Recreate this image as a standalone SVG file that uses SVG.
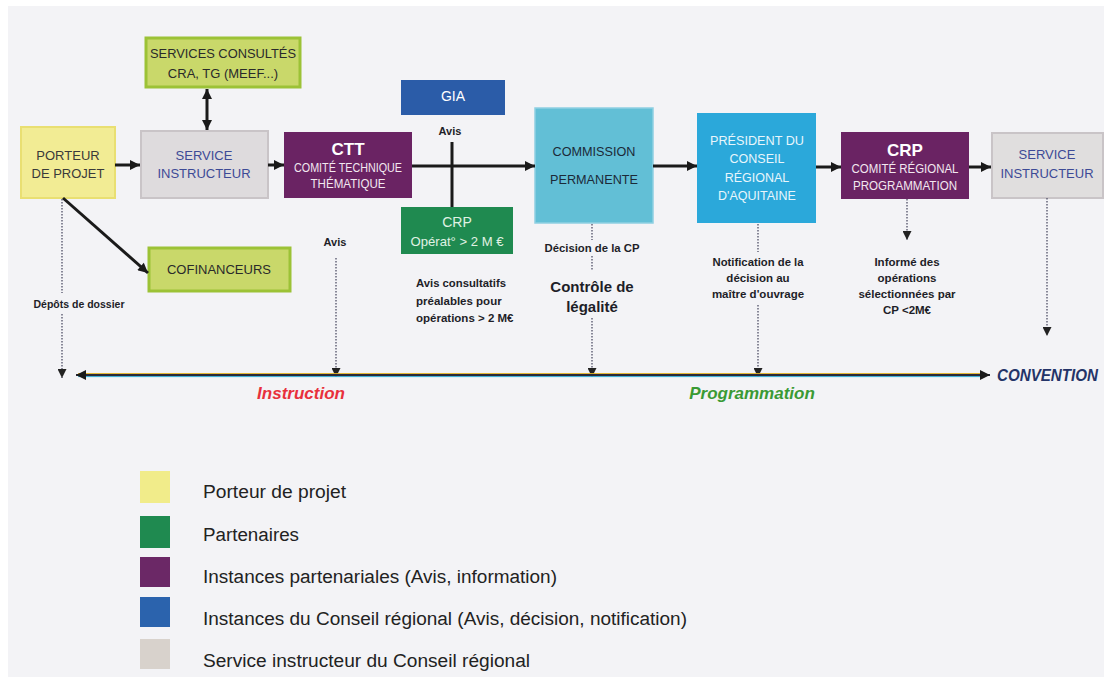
<svg xmlns="http://www.w3.org/2000/svg" width="1104" height="677" viewBox="0 0 1104 677">
  <defs>
    <marker id="head" viewBox="0 0 10 10" refX="10" refY="5" markerWidth="11" markerHeight="10" markerUnits="userSpaceOnUse" orient="auto-start-reverse">
      <path d="M0,0 L10,5 L0,10 z" fill="#1a1a1a"/>
    </marker>
    <marker id="dothead" viewBox="0 0 10 10" refX="10" refY="5" markerWidth="9" markerHeight="9" markerUnits="userSpaceOnUse" orient="auto">
      <path d="M0,0 L10,5 L0,10 z" fill="#222"/>
    </marker>
  </defs>
  <style>
    .box { stroke-width: 2; }
    .t { font-family: "Liberation Sans", Arial, sans-serif; text-anchor: middle; }
    .note { font-family: "Liberation Sans", Arial, sans-serif; font-weight: bold; fill: #1e1e28; }
    .solid { stroke: #1a1a1a; stroke-width: 3; fill: none; }
    .dots { stroke: #5a5a70; stroke-width: 1.4; stroke-dasharray: 1.5 1.5; fill: none; }
    .legend { font-family: "Liberation Sans", Arial, sans-serif; font-size: 18px; fill: #222; }
  </style>

  <!-- page -->
  <rect width="1104" height="677" fill="#ffffff"/>
  <rect x="8" y="6" width="1096" height="671" fill="#f3f3f6"/>

  <!-- nodes -->
  <g id="porteur">
    <rect class="box" x="21" y="127" width="94" height="71" fill="#f2ec94" stroke="#e9df72"/>
    <text class="t" x="68" y="160" font-size="13" fill="#3a3a3a">PORTEUR</text>
    <text class="t" x="68" y="178" font-size="13" fill="#3a3a3a">DE PROJET</text>
  </g>

  <g id="services-consultes">
    <rect x="146" y="38" width="154" height="49" fill="#c9d86a" stroke="#9cc236" stroke-width="3"/>
    <text class="t" x="223" y="58" font-size="13" fill="#2a2a2a" textLength="146" lengthAdjust="spacingAndGlyphs">SERVICES CONSULTÉS</text>
    <text class="t" x="223" y="78" font-size="13" fill="#2a2a2a">CRA, TG (MEEF...)</text>
  </g>

  <g id="service-instructeur-1">
    <rect class="box" x="141" y="131" width="127" height="67" fill="#dedbdd" stroke="#c9c4c7"/>
    <text class="t" x="204" y="160" font-size="13" fill="#3d4a96">SERVICE</text>
    <text class="t" x="204" y="178" font-size="13" fill="#3d4a96">INSTRUCTEUR</text>
  </g>

  <g id="cofinanceurs">
    <rect x="149" y="248" width="141" height="43" fill="#c9d86a" stroke="#9cc236" stroke-width="3"/>
    <text class="t" x="219" y="274" font-size="13" fill="#2a2a2a">COFINANCEURS</text>
  </g>

  <g id="ctt">
    <rect x="284" y="132" width="128" height="66" fill="#6a2363"/>
    <text class="t" x="348" y="155" font-size="17" font-weight="bold" fill="#ffffff">CTT</text>
    <text class="t" x="348" y="172" font-size="12" fill="#f2e8f0" textLength="108" lengthAdjust="spacingAndGlyphs">COMITÉ TECHNIQUE</text>
    <text class="t" x="348" y="188" font-size="12" fill="#f2e8f0" textLength="75" lengthAdjust="spacingAndGlyphs">THÉMATIQUE</text>
  </g>

  <g id="gia">
    <rect x="401" y="80" width="104" height="35" fill="#2b5ca8"/>
    <text class="t" x="453" y="101" font-size="14" fill="#ffffff">GIA</text>
  </g>

  <g id="crp-partenaires">
    <rect x="401" y="207" width="112" height="47" fill="#1f8a50"/>
    <text class="t" x="457" y="227" font-size="14" fill="#e0f2e4">CRP</text>
    <text class="t" x="457" y="246" font-size="13" fill="#e0f2e4" textLength="93" lengthAdjust="spacingAndGlyphs">Opérat° &gt; 2 M €</text>
  </g>

  <g id="commission-permanente">
    <rect x="535" y="108" width="118" height="115" fill="#62bfd6" stroke="#8fd0e2" stroke-width="1.5"/>
    <text class="t" x="594" y="156" font-size="13" fill="#1c2a38" textLength="83" lengthAdjust="spacingAndGlyphs">COMMISSION</text>
    <text class="t" x="594" y="184" font-size="13" fill="#1c2a38" textLength="88" lengthAdjust="spacingAndGlyphs">PERMANENTE</text>
  </g>

  <g id="president">
    <rect x="697" y="113" width="119" height="110" fill="#2ba8da"/>
    <text class="t" x="757" y="145" font-size="12.5" fill="#e8f6fc" textLength="94" lengthAdjust="spacingAndGlyphs">PRÉSIDENT DU</text>
    <text class="t" x="757" y="163" font-size="12.5" fill="#e8f6fc">CONSEIL</text>
    <text class="t" x="757" y="182" font-size="12.5" fill="#e8f6fc">RÉGIONAL</text>
    <text class="t" x="757" y="200" font-size="12.5" fill="#e8f6fc">D'AQUITAINE</text>
  </g>

  <g id="crp-programmation">
    <rect x="841" y="132" width="128" height="67" fill="#6a2363"/>
    <text class="t" x="905" y="156" font-size="17" font-weight="bold" fill="#ffffff">CRP</text>
    <text class="t" x="905" y="173" font-size="12" fill="#f2e8f0" textLength="107" lengthAdjust="spacingAndGlyphs">COMITÉ RÉGIONAL</text>
    <text class="t" x="905" y="190" font-size="12" fill="#f2e8f0" textLength="104" lengthAdjust="spacingAndGlyphs">PROGRAMMATION</text>
  </g>

  <g id="service-instructeur-2">
    <rect class="box" x="992" y="133" width="111" height="65" fill="#e0dede" stroke="#c9c4c7"/>
    <text class="t" x="1047" y="159" font-size="13" fill="#3d4a96">SERVICE</text>
    <text class="t" x="1047" y="178" font-size="13" fill="#3d4a96">INSTRUCTEUR</text>
  </g>

  <!-- connectors -->
  <g id="connectors">
    <line class="solid" x1="115" y1="165" x2="140" y2="165" marker-end="url(#head)"/>
    <line class="solid" x1="268" y1="165" x2="284" y2="165" marker-end="url(#head)"/>
    <line class="solid" x1="412" y1="166" x2="535" y2="166" marker-end="url(#head)"/>
    <line class="solid" x1="653" y1="166" x2="697" y2="166" marker-end="url(#head)"/>
    <line class="solid" x1="816" y1="167" x2="841" y2="167" marker-end="url(#head)"/>
    <line class="solid" x1="969" y1="167" x2="991" y2="167" marker-end="url(#head)"/>
    <line class="solid" x1="207" y1="89" x2="207" y2="130" marker-start="url(#head)" marker-end="url(#head)"/>
    <line class="solid" x1="63" y1="198" x2="148" y2="273" marker-end="url(#head)"/>
    <line class="solid" x1="452" y1="142" x2="452" y2="207" stroke-width="2.5"/>

    <!-- dotted drops onto the timeline -->
    <line class="dots" x1="62" y1="199" x2="62" y2="293"/>
    <line class="dots" x1="62" y1="314" x2="62" y2="378" marker-end="url(#dothead)"/>
    <line class="dots" x1="336" y1="258" x2="336" y2="377" marker-end="url(#dothead)"/>
    <line class="dots" x1="592" y1="224" x2="592" y2="240"/>
    <line class="dots" x1="592" y1="256" x2="592" y2="270"/>
    <line class="dots" x1="592" y1="318" x2="592" y2="377" marker-end="url(#dothead)"/>
    <line class="dots" x1="758" y1="224" x2="758" y2="252"/>
    <line class="dots" x1="758" y1="305" x2="758" y2="377" marker-end="url(#dothead)"/>
    <line class="dots" x1="907" y1="199" x2="907" y2="240" marker-end="url(#dothead)"/>
    <line class="dots" x1="1047" y1="198" x2="1047" y2="336" marker-end="url(#dothead)"/>

    <!-- timeline -->
    <line x1="78" y1="373.6" x2="984" y2="373.6" stroke="#e0b020" stroke-width="1"/>
    <line x1="78" y1="376.6" x2="984" y2="376.6" stroke="#30a8d0" stroke-width="1"/>
    <line x1="76" y1="375" x2="990" y2="375" stroke="#2a2a3a" stroke-width="2" marker-start="url(#head)" marker-end="url(#head)"/>
  </g>

  <!-- annotations -->
  <g id="labels">
    <g text-anchor="middle">
      <text class="note" x="450" y="135" font-size="11">Avis</text>
      <text class="note" x="335" y="246" font-size="11">Avis</text>
      <text class="note" x="79" y="308" font-size="10.5">Dépôts de dossier</text>
      <text class="note" x="592" y="252" font-size="11.5" textLength="95" lengthAdjust="spacingAndGlyphs">Décision de la CP</text>
      <text class="note" x="592" y="292" font-size="15">Contrôle de</text>
      <text class="note" x="592" y="312" font-size="15">légalité</text>
      <text class="note" x="758" y="266" font-size="11.5" textLength="91" lengthAdjust="spacingAndGlyphs">Notification de la</text>
      <text class="note" x="758" y="282" font-size="11.5">décision au</text>
      <text class="note" x="758" y="298" font-size="11.5">maître d'ouvrage</text>
      <text class="note" x="907" y="266" font-size="11.5">Informé des</text>
      <text class="note" x="907" y="282" font-size="11.5">opérations</text>
      <text class="note" x="907" y="298" font-size="11.5">sélectionnées par</text>
      <text class="note" x="907" y="314" font-size="11.5">CP &lt;2M€</text>
    </g>
    <g text-anchor="start">
      <text class="note" x="416" y="287" font-size="11.5" textLength="90" lengthAdjust="spacingAndGlyphs">Avis consultatifs</text>
      <text class="note" x="416" y="305" font-size="11.5">préalables pour</text>
      <text class="note" x="416" y="322" font-size="11.5">opérations &gt; 2 M€</text>
    </g>

    <text class="t" x="301" y="399" font-size="17" font-style="italic" font-weight="bold" fill="#e8303c">Instruction</text>
    <text class="t" x="752" y="399" font-size="17" font-style="italic" font-weight="bold" fill="#3a9a34">Programmation</text>
    <text x="997" y="381" font-family="'Liberation Sans', Arial, sans-serif" font-size="16" font-style="italic" font-weight="bold" fill="#243468" textLength="101" lengthAdjust="spacingAndGlyphs">CONVENTION</text>
  </g>

  <!-- legend -->
  <g id="legend">
    <rect x="140" y="471" width="30" height="32" fill="#f1ec8a"/>
    <rect x="140" y="516" width="30" height="32" fill="#1f8a50"/>
    <rect x="140" y="557" width="30" height="30" fill="#6b2866"/>
    <rect x="140" y="597" width="30" height="30" fill="#2b63ad"/>
    <rect x="140" y="639" width="30" height="30" fill="#d8d2cc"/>
    <text class="legend" x="203" y="498" textLength="143" lengthAdjust="spacingAndGlyphs">Porteur de projet</text>
    <text class="legend" x="203" y="541" textLength="96" lengthAdjust="spacingAndGlyphs">Partenaires</text>
    <text class="legend" x="203" y="583" textLength="354" lengthAdjust="spacingAndGlyphs">Instances partenariales (Avis, information)</text>
    <text class="legend" x="203" y="625" textLength="484" lengthAdjust="spacingAndGlyphs">Instances du Conseil régional (Avis, décision, notification)</text>
    <text class="legend" x="203" y="667" textLength="327" lengthAdjust="spacingAndGlyphs">Service instructeur du Conseil régional</text>
  </g>
</svg>
